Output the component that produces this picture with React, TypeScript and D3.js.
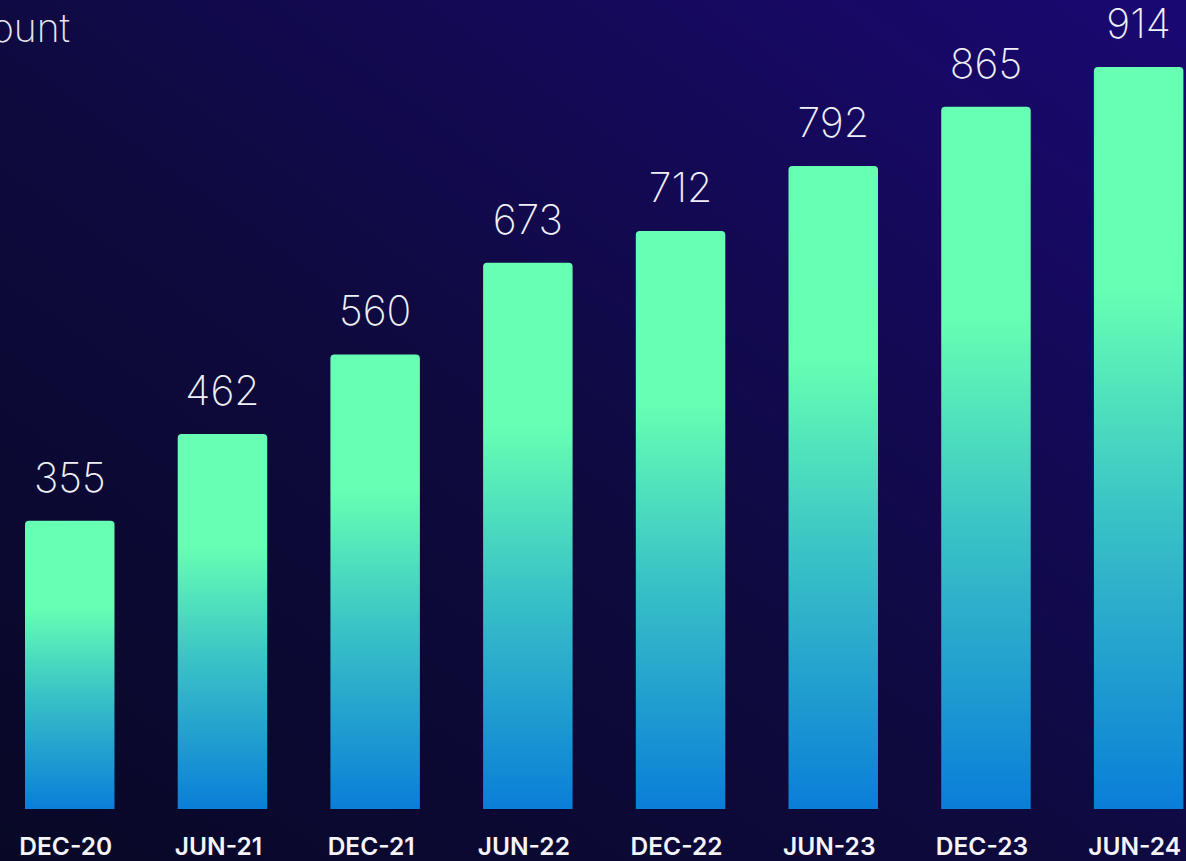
import React from "react";
import * as d3 from "d3";

const categories = ["DEC-20", "JUN-21", "DEC-21", "JUN-22", "DEC-22", "JUN-23", "DEC-23", "JUN-24"];
const values = [355, 462, 560, 673, 712, 792, 865, 914];
const titleText = "Headcount";

const W = 1186;
const H = 861;

export default function App() {
  const x = d3.scaleBand<string>().domain(categories).range([-6.6, 1215]).paddingInner(0.414).paddingOuter(0.207);
  const y = d3.scaleLinear().domain([0, 914]).range([809, 67]);
  return (
    <svg width={W} height={H} style={{ position: "absolute", left: 0, top: 0, display: "block" }}>
      <defs>
        <linearGradient id="bg" x1="0" y1="1" x2="1" y2="0">
          <stop offset="0%" stopColor="#080826" />
          <stop offset="45%" stopColor="#0e0a3e" />
          <stop offset="100%" stopColor="#1a0872" />
        </linearGradient>
        <linearGradient id="bar" x1="0" y1="0" x2="0" y2="1">
          <stop offset="0%" stopColor="#66ffb3" />
          <stop offset="30%" stopColor="#66ffb3" />
          <stop offset="60%" stopColor="#3ac3c6" />
          <stop offset="100%" stopColor="#0a7ed8" />
        </linearGradient>
      </defs>
      <rect x={0} y={0} width={W} height={H} fill="url(#bg)" />
      <text x={70} y={42} textAnchor="end" fill="#e8e8f0" fontFamily="Inter, 'Open Sans', sans-serif" fontWeight={200} fontSize={39}>
        {titleText}
      </text>
      {categories.map((c, i) => {
        const bx = x(c)!;
        const bw = x.bandwidth();
        const top = y(values[i]);
        const bottom = y(0);
        const r = 4;
        const path = `M${bx},${bottom} V${top + r} Q${bx},${top} ${bx + r},${top} H${bx + bw - r} Q${bx + bw},${top} ${bx + bw},${top + r} V${bottom} Z`;
        return (
          <g key={c}>
            <path d={path} fill="url(#bar)" />
            <text x={bx + bw / 2} y={top - 29} textAnchor="middle" fill="#f0f0f8" fontFamily="Inter, 'Open Sans', sans-serif" fontWeight={200} fontSize={41}>
              {values[i]}
            </text>
            <text x={bx + bw / 2 - 4} y={855} textAnchor="middle" fill="#f4f4fa" fontFamily="Inter, 'Noto Sans', sans-serif" fontWeight={600} fontSize={24.5}>
              {c}
            </text>
          </g>
        );
      })}
    </svg>
  );
}
